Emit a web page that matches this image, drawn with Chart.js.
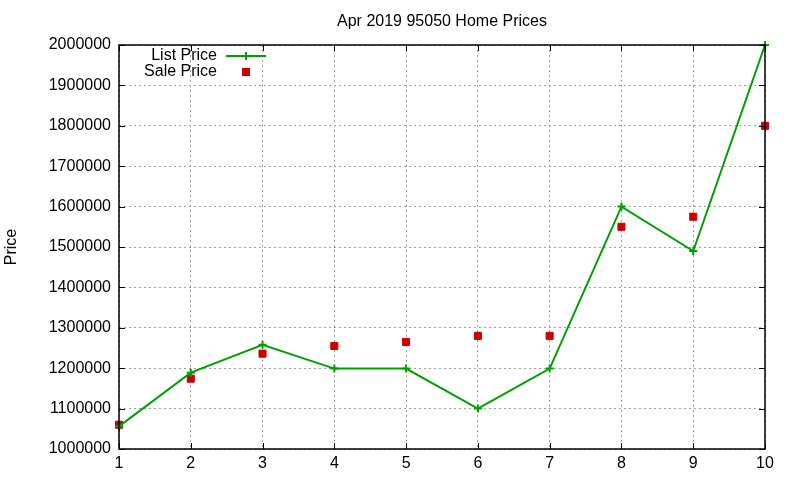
<!DOCTYPE html>
<html>
<head>
<meta charset="utf-8">
<script src="https://cdn.jsdelivr.net/npm/chart.js@4/dist/chart.umd.min.js"></script>
<style>
  html, body { margin: 0; padding: 0; background: #fff; }
  #wrap { width: 800px; height: 480px; }
</style>
</head>
<body>
<div id="wrap"><canvas id="chart" width="800" height="480"></canvas></div>
<script>
// data
const homes = [1, 2, 3, 4, 5, 6, 7, 8, 9, 10];
const listPrice = [1056000, 1189000, 1258000, 1199000, 1199000, 1100000, 1199000, 1600000, 1490000, 2000000];
const salePrice = [1060000, 1174000, 1236000, 1255000, 1265000, 1280000, 1280000, 1550000, 1575000, 1800000];
const yTicks = [1000000, 1100000, 1200000, 1300000, 1400000, 1500000, 1600000, 1700000, 1800000, 1900000, 2000000];

const FONT = '"Liberation Sans", Arial, sans-serif';
const GREEN = '#00a000';
const RED = '#cc0000';

// gnuplot-like frame, inward ticks, title, y label and key
const gnuplotDecor = {
  id: 'gnuplotDecor',
  afterDraw(chart) {
    const ctx = chart.ctx;
    const a = chart.chartArea;
    const xs = chart.scales.x, ys = chart.scales.y;
    ctx.save();

    // border box
    ctx.strokeStyle = '#000';
    ctx.lineWidth = 1.5;
    ctx.strokeRect(a.left, a.top, a.right - a.left, a.bottom - a.top);

    // inward ticks on all sides
    ctx.lineWidth = 1;
    ctx.beginPath();
    yTicks.forEach(v => {
      const y = Math.round(ys.getPixelForValue(v)) + 0.5;
      ctx.moveTo(a.left, y); ctx.lineTo(a.left + 6, y);
      ctx.moveTo(a.right, y); ctx.lineTo(a.right - 6, y);
    });
    homes.forEach(v => {
      const x = Math.round(xs.getPixelForValue(v)) + 0.5;
      ctx.moveTo(x, a.bottom); ctx.lineTo(x, a.bottom - 6);
      ctx.moveTo(x, a.top); ctx.lineTo(x, a.top + 6);
    });
    ctx.stroke();

    // title
    ctx.fillStyle = '#000';
    ctx.font = '16px ' + FONT;
    ctx.textAlign = 'center';
    ctx.textBaseline = 'middle';
    ctx.fillText('Apr 2019 95050 Home Prices', (a.left + a.right) / 2, 22);

    // y axis label
    ctx.save();
    ctx.translate(12, (a.top + a.bottom) / 2);
    ctx.rotate(-Math.PI / 2);
    ctx.font = '16px ' + FONT;
    ctx.fillText('Price', 0, 0);
    ctx.restore();

    // key
    ctx.font = '16px ' + FONT;
    ctx.textAlign = 'right';
    ctx.fillText('List Price', 217, 56);
    ctx.fillText('Sale Price', 217, 72);

    ctx.strokeStyle = GREEN;
    ctx.lineWidth = 2;
    ctx.beginPath();
    ctx.moveTo(226, 56); ctx.lineTo(266, 56);
    ctx.moveTo(246, 52); ctx.lineTo(246, 60);
    ctx.stroke();

    ctx.fillStyle = RED;
    ctx.fillRect(242, 68, 8, 8);

    ctx.restore();
  }
};

new Chart(document.getElementById('chart'), {
  type: 'line',
  data: {
    datasets: [
      {
        label: 'List Price',
        data: homes.map((h, i) => ({ x: h, y: listPrice[i] })),
        borderColor: GREEN,
        backgroundColor: GREEN,
        borderWidth: 2,
        pointStyle: 'cross',
        pointRadius: 4,
        pointBorderWidth: 2,
        tension: 0,
        fill: false
      },
      {
        label: 'Sale Price',
        data: homes.map((h, i) => ({ x: h, y: salePrice[i] })),
        showLine: false,
        borderColor: RED,
        backgroundColor: RED,
        pointStyle: 'rect',
        pointRadius: 5,
        pointBorderWidth: 1
      }
    ]
  },
  options: {
    responsive: false,
    animation: false,
    clip: false,
    layout: { padding: { top: 45, right: 35, left: 0, bottom: 0 } },
    plugins: {
      legend: { display: false },
      title: { display: false },
      tooltip: { enabled: false }
    },
    scales: {
      x: {
        type: 'linear',
        min: 1,
        max: 10,
        afterFit: s => { s.height = 31; },
        afterBuildTicks: s => { s.ticks = homes.map(v => ({ value: v })); },
        grid: { color: '#a0a0a0', lineWidth: 1, drawTicks: false },
        border: { display: false, dash: [2, 3] },
        ticks: { color: '#000', font: { family: FONT, size: 16 }, padding: 5, maxRotation: 0 }
      },
      y: {
        min: 1000000,
        max: 2000000,
        afterFit: s => { s.width = 119; },
        afterBuildTicks: s => { s.ticks = yTicks.map(v => ({ value: v })); },
        grid: { color: '#a0a0a0', lineWidth: 1, drawTicks: false },
        border: { display: false, dash: [2, 3] },
        ticks: { color: '#000', font: { family: FONT, size: 16 }, padding: 8, callback: v => String(v) }
      }
    }
  },
  plugins: [gnuplotDecor]
});
</script>
</body>
</html>
